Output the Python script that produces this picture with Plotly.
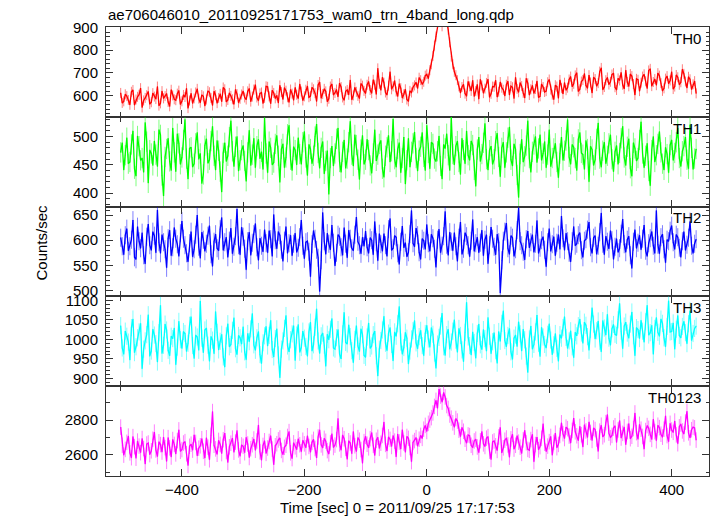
import numpy as np
import plotly.graph_objects as go
from plotly.subplots import make_subplots

# ---- data (2.5 s bins starting at -500 s) ----
BIN_START = -500
BIN_WIDTH = 2.5

TH0 = [612,568, 575,606, 598,581, 560,617, 625,559, 583,595, 604,633, 548,579, 590,602, 618,563, 571,611, 596,585,
       640,556, 566,620, 588,598, 609,572, 553,626, 601,584, 580,609, 622,561, 575,603, 594,632, 545,579, 610,566,
       588,614, 630,587, 569,603, 597,555, 583,621, 615,590, 557,619, 602,567, 590,608, 574,636, 628,573, 581,612,
       599,584, 562,627, 607,569, 586,605, 620,592,
       583,619, 631,574, 596,627, 648,592, 578,610, 614,566, 590,641, 639,597, 565,623, 612,588, 601,568, 645,616,
       584,635, 622,593, 571,627, 609,580, 636,604, 588,651, 618,579, 597,626,
       642,593, 598,636, 628,611, 575,647, 660,589, 607,630, 619,574, 586,640, 651,603, 612,627, 595,655, 638,592,
       580,619, 625,604, 669,582, 601,636, 617,599, 588,653, 644,621, 610,648,
       662,625, 611,670, 648,606, 720,652, 624,681, 657,614, 603,644, 705,628, 641,666, 618,597, 652,633,
       590,606, 628,583, 575,621, 614,637,
       645,658, 632,679, 668,650, 661,688, 694,675, 712,738,
       775,820, 860,915, 945,980, 905,930, 960,925, 890,835,
       772,738, 705,690, 668,641,
       612,638, 650,609, 598,662, 641,621, 667,597, 620,649, 585,672, 645,611, 631,656, 672,593, 608,640, 639,668,
       594,617, 660,635, 626,599, 648,663, 603,642, 637,588, 681,630, 615,657, 642,612, 590,676, 655,603, 628,645,
       610,629, 664,592, 597,651, 638,616, 620,659, 671,627, 604,583, 646,640, 589,669, 633,608, 657,624,
       635,671, 684,640, 652,689, 701,619, 628,662, 669,697, 645,633, 690,658, 612,681, 673,642, 655,706, 722,626,
       638,668, 680,649, 661,693, 699,637, 625,676, 667,702, 648,630, 712,660, 641,695, 686,651, 603,674, 670,620,
       657,684, 694,663, 632,711, 718,642, 660,673, 646,699, 688,655, 621,632, 675,686, 653,667, 705,629, 640,691,
       681,648, 659,716, 696,662, 634,683, 672,627, 650,664, 610]

TH1 = [472,489, 441,467, 498,452, 455,486, 510,443, 430,501, 483,458, 462,437, 525,491, 418,476, 470,449, 492,468,
       447,512, 503,431, 395,464, 478,497, 456,440, 515,472, 438,505, 488,451,
       463,494, 530,461, 425,479, 481,446, 452,488, 507,460, 470,417, 433,484, 496,453, 459,492, 518,466, 441,493,
       475,438, 402,471, 489,456, 466,499, 528,474, 447,482, 500,439, 458,476,
       484,457, 421,472, 511,449, 468,497, 445,483, 495,461, 473,442, 533,470, 436,491, 480,450, 454,487, 502,466,
       419,478, 487,445, 463,504, 520,459, 440,482, 476,450, 498,469, 451,490,
       509,463, 431,486, 478,452, 466,500, 522,471, 444,480, 491,434, 457,475, 398,462, 483,448, 470,496, 515,455,
       437,473, 494,444, 461,490, 527,468, 448,503, 485,459, 424,477, 502,451,
       459,495, 476,449, 435,470, 512,457, 468,487, 493,443, 428,466, 481,502, 455,474, 531,460, 446,478, 489,436,
       462,499, 416,458, 497,446, 473,488, 508,462, 439,475, 482,507, 464,440,
       520,471, 443,490, 487,461, 456,474, 501,448, 425,486, 479,505, 467,440, 534,469, 450,483, 492,455, 433,497,
       476,452, 510,467, 458,492, 485,441, 412,477, 499,456, 469,489, 523,460,
       441,476, 483,451, 460,492, 506,464, 429,480, 490,445, 472,498, 517,459, 448,487, 478,432, 392,469, 495,455,
       465,484, 528,462, 437,473, 486,500, 454,479, 503,458, 470,491, 445,468,
       512,447, 462,479, 488,455, 427,470, 499,458, 475,493, 530,464, 451,486, 481,462, 440,495, 507,471, 468,442,
       493,478, 420,483, 477,449, 459,496, 524,461, 446,475, 490,452, 466,488,
       503,460, 438,473, 484,451, 471,497, 518,463, 449,482, 496,444, 430,489, 479,457, 462,494, 526,470, 445,466,
       488,439, 413,476, 500,455, 467,487, 509,472, 452,441, 481,469,
       436,485, 494,458, 471,490, 515,462, 447,474, 483,499, 459,443, 521,480, 442,461, 478]

TH2 = [605,588, 571,610, 623,579, 588,601, 640,566, 562,627, 598,584, 615,570, 553,607, 632,590, 580,617, 609,575,
       660,596, 574,611, 596,582, 545,604, 620,569, 586,625, 603,592, 568,614,
       638,603, 590,574, 557,594, 617,567, 582,611, 650,587, 564,616, 601,578, 593,609, 629,572, 548,597, 612,584,
       579,622, 645,580, 596,606, 566,599, 624,573, 587,608, 662,590, 571,626,
       607,583, 541,598, 616,570, 595,612, 633,586, 560,604, 589,577, 621,594, 575,619, 602,568, 651,600, 583,617,
       610,581, 558,599, 627,574, 594,610, 569,593, 614,576, 585,606, 640,589,
       563,596, 598,577, 527,592, 619,603, 581,565, 498,560, 655,598, 572,614, 593,581, 630,595, 549,575, 611,607,
       586,570, 625,593, 565,620, 603,584, 579,611, 646,597, 590,573, 606,588,
       618,586, 574,605, 600,571, 637,596, 559,613, 592,578, 613,590, 568,622, 643,580, 584,609, 606,574, 552,597,
       628,585, 595,567, 576,612, 659,594, 587,624, 610,576, 562,603, 599,582,
       631,594, 578,612, 604,583, 546,601, 622,575, 589,608, 657,591, 570,616, 597,579, 615,588, 558,605, 636,572,
       583,615, 608,590, 567,599, 641,578, 594,606, 575,595, 620,569, 601,611,
       553,590, 626,603, 587,571, 612,596, 495,560, 599,617, 634,584, 572,609, 605,568, 582,620, 664,598, 590,577,
       561,602, 618,585, 596,611, 576,593, 639,574, 585,600, 607,581, 547,596,
       623,578, 592,607, 569,595, 611,582, 648,604, 580,614, 598,575, 557,598, 627,589, 593,610, 615,580, 566,599,
       602,621, 636,586, 574,605, 609,572, 589,616, 654,593, 571,608, 597,583,
       619,600, 562,587, 603,576, 584,613, 642,592, 576,601, 608,570, 544,597, 621,584, 595,610, 581,603, 630,579,
       568,594, 604,617, 589,574, 659,591, 573,606, 612,582, 555,601, 598,619,
       629,596, 582,611, 606,585, 566,598, 617,580, 591,605, 637,589, 574,593, 602]

TH3 = [1035,978, 962,1021, 1008,993, 947,1030, 1052,966, 981,1004, 1019,1041, 925,975, 996,1012, 1063,957,
       970,1026, 1011,989, 942,1017, 1087,964, 985,1039, 1024,972, 958,1008, 1002,1029, 935,980, 1046,999,
       977,1020, 1015,969, 990,1036, 1058,984, 951,1011, 1006,972, 1098,1003, 966,1024, 1029,985, 944,1007,
       998,963, 1071,1018, 973,995, 1013,955, 929,1009, 1040,981, 987,1023, 1055,976, 961,1010, 1004,988,
       1032,968, 948,1015, 994,1027, 1066,986, 972,1004, 1020,961, 938,991, 1009,1033, 983,1010, 1049,974,
       955,1002, 1027,960, 902,975, 996,1028, 1061,983, 968,999, 1014,1035, 946,1011, 1038,967, 979,1021,
       1003,982, 957,1019, 1044,970, 986,1031, 1078,996, 964,1009, 1016,985, 931,1013, 999,1026, 1053,978,
       975,1004, 1025,962, 950,1014, 1069,992, 988,1037, 1007,971, 940,1000, 1035,983, 969,1027, 1012,959,
       954,1006, 1042,977, 983,1012, 1021,958, 906,975, 997,1024, 1059,990, 971,1016, 1030,987, 945,1019,
       1008,1040, 1084,993, 962,979, 1018,1003, 937,970, 1001,1022, 1048,991, 976,1007, 1023,984, 958,1015,
       1036,1001, 980,1030, 1013,965, 926,988, 1005,1034, 1067,981, 959,1012, 1026,975, 993,1021, 1050,998,
       967,1028, 1010,973, 943,1018, 1095,1006, 984,960, 1019,992, 952,1015, 1039,986, 974,1025, 1002,970,
       1056,1008, 963,994, 1017,971, 939,1020, 995,1041, 1073,997, 981,1010, 1028,968, 949,1003, 1011,982,
       1045,1014, 970,1026, 999,957, 915,1001, 1034,975, 987,1019, 1062,990, 956,1031, 1006,987, 978,1013,
       1040,998, 961,986, 1015,977, 944,1012, 1003,1030, 1058,1005, 977,996, 1022,981, 953,1018, 1009,1035,
       1052,1016, 990,1044, 1036,1007, 972,1025, 1081,1039, 1001,1022, 1047,995, 968,1048, 1029,1011, 1064,1003,
       985,1027, 1038,1013, 1010,1050, 1092,1021, 976,1034, 1044,1016, 1003,1039, 1070,1009, 958,1030, 1025,1002,
       1049,1021, 993,1045, 1087,1011, 1017,1036, 962,1028, 1056,1018, 1008,1052, 1041,1004, 981,1033, 1099,1019,
       1020,1042, 975,1026, 1061,1010, 1004,1033, 1046,1017, 989,1040, 1073,997, 1015,1028, 1034]

TH0123 = [2760,2655, 2598,2631, 2672,2708, 2611,2583, 2705,2647, 2580,2679, 2650,2612, 2694,2636, 2547,2662, 2668,2601,
          2623,2690, 2731,2628, 2590,2675, 2659,2616, 2702,2641, 2562,2699, 2640,2587, 2688,2660, 2605,2682, 2744,2620,
          2630,2668, 2676,2606, 2538,2649, 2661,2627, 2715,2671, 2594,2638, 2652,2693, 2620,2581, 2698,2644, 2571,2712,
          2850,2655, 2634,2603, 2683,2660, 2607,2687, 2725,2619, 2556,2646, 2667,2696, 2615,2673, 2740,2628, 2592,2657,
          2649,2612, 2701,2662, 2584,2635, 2658,2691, 2626,2680, 2772,2617, 2569,2654, 2681,2608, 2639,2677, 2710,2633,
          2543,2652, 2664,2686, 2697,2625, 2601,2643, 2655,2706, 2734,2611, 2578,2669, 2646,2630, 2692,2658, 2618,2684,
          2663,2641,
          2710,2648, 2615,2672, 2689,2636, 2582,2703, 2744,2657, 2640,2695, 2678,2624, 2605,2669, 2721,2642, 2656,2688,
          2810,2663, 2627,2714, 2693,2637, 2574,2681, 2668,2606, 2735,2652, 2619,2699, 2684,2630, 2551,2676, 2707,2661,
          2640,2693, 2728,2655, 2596,2684, 2701,2637, 2667,2712, 2790,2660, 2622,2703, 2689,2648, 2711,2679, 2588,2720,
          2674,2633, 2745,2668, 2615,2706, 2695,2642, 2560,2671, 2682,2699, 2650,2690,
          2712,2695, 2748,2770, 2735,2782, 2801,2815,
          2842,2880, 2915,2870, 2980,2940, 2905,2960, 2935,2885, 2868,2830,
          2812,2785, 2760,2810, 2795,2742, 2705,2758, 2736,2690, 2668,2715, 2711,2655, 2642,2680,
          2690,2645, 2612,2681, 2734,2663, 2648,2696, 2705,2621, 2573,2674, 2680,2652, 2625,2703, 2758,2611, 2640,2684,
          2697,2657, 2586,2692, 2719,2633, 2655,2710, 2673,2644, 2608,2686, 2741,2670, 2631,2626, 2688,2718, 2560,2659,
          2702,2629, 2647,2695, 2779,2667, 2619,2650, 2676,2706, 2598,2672, 2725,2641, 2660,2712,
          2785,2722, 2694,2760, 2751,2708, 2668,2741, 2812,2733, 2710,2682, 2764,2716, 2645,2774, 2738,2701, 2790,2729,
          2683,2755, 2746,2691, 2620,2737, 2771,2704, 2716,2786, 2833,2725, 2699,2712, 2755,2768, 2672,2744, 2798,2697,
          2724,2761, 2659,2735, 2780,2693, 2707,2752, 2842,2728, 2690,2776, 2748,2706, 2633,2740, 2769,2753, 2718,2689,
          2806,2734, 2681,2771, 2757,2719, 2702,2748, 2825,2711, 2676,2782, 2743,2730, 2795,2715, 2664,2762, 2778,2738,
          2720,2789, 2851,2727, 2698,2745, 2760,2756, 2685]

PANEL_NAMES = ["TH0", "TH1", "TH2", "TH3", "TH0123"]
SERIES = [TH0, TH1, TH2, TH3, TH0123]

TITLE = "ae706046010_20110925171753_wam0_trn_4band_long.qdp"
X_TITLE = "Time [sec] 0 = 2011/09/25 17:17:53"
Y_TITLE = "Counts/sec"

# ---- styles ----
COLORS = ["#ff0000", "#00ff00", "#0000ff", "#00ffff", "#ff00ff"]
LIGHT = ["rgba(255,0,0,0.5)", "rgba(0,255,0,0.5)", "rgba(0,0,255,0.5)",
         "rgba(0,255,255,0.5)", "rgba(255,0,255,0.5)"]
ERR_SIZE = [22, 18, 18, 22, 45]
Y_RANGES = [[507, 902], [376, 535], [488, 667], [880, 1110], [2477, 2997]]
Y_DTICK = [100, 50, 50, 50, 200]
Y_MINOR = [20, 10, 10, 10, 100]
X_RANGE = [-524, 461]
FONT = "Liberation Sans, Arial, Helvetica, sans-serif"
FS = 15
AX = "#333"

fig = make_subplots(rows=5, cols=1, shared_xaxes=True, vertical_spacing=0)

for k, (name, vals) in enumerate(zip(PANEL_NAMES, SERIES)):
    t = BIN_START + BIN_WIDTH * np.arange(len(vals))
    fig.add_trace(go.Scatter(x=t, y=vals, mode="markers",
                             marker=dict(size=1, color=LIGHT[k]),
                             error_y=dict(type="constant", value=ERR_SIZE[k],
                                          color=LIGHT[k], thickness=1, width=0),
                             showlegend=False, hoverinfo="skip"),
                  row=k + 1, col=1)
    fig.add_trace(go.Scatter(x=t, y=vals, mode="lines",
                             line=dict(color=COLORS[k], width=1.3),
                             showlegend=False, hoverinfo="skip"),
                  row=k + 1, col=1)
    fig.update_yaxes(range=Y_RANGES[k], dtick=Y_DTICK[k], tick0=0,
                     ticks="inside", ticklen=7, tickwidth=1, tickcolor=AX,
                     minor=dict(dtick=Y_MINOR[k], ticks="inside", ticklen=3.5,
                                tickcolor=AX, tickwidth=1, showgrid=False),
                     mirror="ticks", showline=True, linecolor=AX, linewidth=1,
                     showgrid=False, zeroline=False, ticklabelstandoff=4,
                     tickfont=dict(family=FONT, size=FS, color="black"),
                     row=k + 1, col=1)
    fig.update_xaxes(range=X_RANGE, dtick=200, tick0=0,
                     ticks="inside", ticklen=7, tickwidth=1, tickcolor=AX,
                     minor=dict(dtick=100, ticks="inside", ticklen=5,
                                tickcolor=AX, tickwidth=1, showgrid=False),
                     mirror="ticks", showline=True, linecolor=AX, linewidth=1,
                     showgrid=False, zeroline=False,
                     tickfont=dict(family=FONT, size=FS, color="black"),
                     row=k + 1, col=1)
    xref = "x domain" if k == 0 else f"x{k + 1} domain"
    yref = "y domain" if k == 0 else f"y{k + 1} domain"
    fig.add_annotation(text=name, xref=xref, yref=yref, x=0.99, y=0.875,
                       xanchor="right", yanchor="middle", showarrow=False,
                       font=dict(family=FONT, size=FS, color="black"))

fig.add_annotation(text=TITLE, xref="paper", yref="paper", x=0, y=1,
                   xanchor="left", yanchor="bottom", yshift=2, showarrow=False,
                   font=dict(family=FONT, size=FS, color="black"))
fig.add_annotation(text=X_TITLE, xref="paper", yref="paper", x=0.483, y=0,
                   xanchor="center", yanchor="top", yshift=-21, showarrow=False,
                   font=dict(family=FONT, size=FS, color="black"))
fig.add_annotation(text=Y_TITLE, xref="paper", yref="paper", x=0, y=0.52,
                   xanchor="center", yanchor="middle", xshift=-64, textangle=-90,
                   showarrow=False,
                   font=dict(family=FONT, size=FS, color="black"))

fig.update_layout(width=717, height=516,
                  margin=dict(l=106, r=8, t=27, b=40),
                  paper_bgcolor="white", plot_bgcolor="white",
                  font=dict(family=FONT, size=FS, color="black"))

fig.write_html("out.html", config={"displayModeBar": False},
               post_script="document.body.style.margin='0px';document.body.style.overflow='hidden';")
